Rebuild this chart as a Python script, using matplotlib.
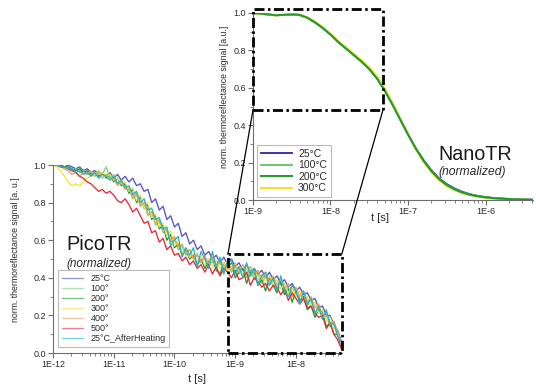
import numpy as np
import matplotlib
matplotlib.use("Agg")
import matplotlib.pyplot as plt
from matplotlib.ticker import FixedLocator, FixedFormatter, MultipleLocator
from matplotlib.patches import ConnectionPatch

plt.rcParams['font.family'] = ['Liberation Sans', 'DejaVu Sans']
plt.rcParams['lines.scale_dashes'] = False

# ---------------- PicoTR data (log10 time grid) ----------------
pico_log_t = np.linspace(-12, -7.25, 77)
pico_labels = ["25°C", "100°", "200°", "300°", "400°", "500°", "25°C_AfterHeating"]
pico_colors = ["#5555c0", "#80d080", "#1f9a2a", "#f5e23c", "#f4a060", "#e8283a", "#22b4cc"]

pico_25 = [1.00,1.00,1.00,0.99,1.00,0.99,0.98,0.99,0.97,0.98,
           0.96,0.97,0.95,0.96,0.94,0.96,0.93,0.95,0.92,0.94,
           0.91,0.93,0.89,0.90,0.86,0.87,0.80,0.82,0.76,0.78,
           0.71,0.73,0.67,0.69,0.62,0.64,0.58,0.60,0.55,0.57,
           0.52,0.54,0.50,0.52,0.48,0.51,0.47,0.50,0.46,0.48,
           0.44,0.47,0.43,0.45,0.42,0.44,0.40,0.43,0.39,0.41,
           0.37,0.39,0.35,0.37,0.33,0.35,0.31,0.32,0.28,0.29,
           0.24,0.25,0.20,0.20,0.15,0.12,0.06]
pico_100 = [1.00,1.00,0.99,0.99,0.98,0.97,0.98,0.96,0.97,0.95,
            0.96,0.94,0.97,0.95,0.99,0.93,0.95,0.90,0.92,0.87,
            0.88,0.82,0.85,0.78,0.80,0.73,0.75,0.68,0.70,0.64,
            0.65,0.59,0.61,0.55,0.57,0.52,0.55,0.50,0.52,0.48,
            0.51,0.46,0.49,0.45,0.48,0.44,0.47,0.43,0.46,0.42,
            0.45,0.40,0.44,0.39,0.42,0.37,0.41,0.36,0.39,0.34,
            0.37,0.32,0.35,0.30,0.33,0.28,0.30,0.25,0.28,0.22,
            0.24,0.18,0.20,0.14,0.15,0.09,0.04]
pico_200 = [1.00,1.00,1.00,0.99,0.99,0.98,0.97,0.98,0.96,0.97,
            0.95,0.96,0.94,0.96,0.93,0.95,0.91,0.93,0.89,0.90,
            0.85,0.87,0.80,0.83,0.77,0.79,0.71,0.73,0.66,0.68,
            0.60,0.63,0.56,0.58,0.52,0.55,0.50,0.52,0.47,0.50,
            0.45,0.49,0.51,0.44,0.42,0.48,0.44,0.48,0.40,0.43,
            0.45,0.37,0.43,0.43,0.36,0.39,0.33,0.40,0.36,0.32,
            0.38,0.31,0.34,0.27,0.33,0.28,0.30,0.23,0.25,0.19,
            0.23,0.22,0.14,0.16,0.10,0.10,0.03]
pico_300 = [1.00,0.99,0.97,0.94,0.91,0.89,0.90,0.89,0.91,0.93,
            0.94,0.96,0.95,0.96,0.94,0.95,0.92,0.93,0.90,0.91,
            0.86,0.88,0.81,0.84,0.77,0.80,0.72,0.74,0.67,0.69,
            0.62,0.65,0.57,0.59,0.53,0.56,0.51,0.53,0.48,0.51,
            0.47,0.50,0.46,0.49,0.45,0.48,0.44,0.47,0.43,0.46,
            0.42,0.45,0.41,0.44,0.39,0.42,0.38,0.41,0.36,0.39,
            0.34,0.37,0.32,0.35,0.30,0.33,0.28,0.30,0.25,0.27,
            0.21,0.23,0.17,0.19,0.13,0.11,0.04]
pico_400 = [1.00,1.00,0.99,0.98,0.97,0.95,0.96,0.94,0.96,0.95,
            0.97,0.94,0.96,0.93,0.95,0.92,0.93,0.89,0.91,0.87,
            0.87,0.83,0.84,0.79,0.80,0.74,0.75,0.69,0.71,0.65,
            0.66,0.60,0.62,0.56,0.58,0.53,0.55,0.50,0.53,0.48,
            0.52,0.47,0.51,0.46,0.50,0.45,0.49,0.44,0.48,0.43,
            0.47,0.42,0.46,0.41,0.44,0.39,0.43,0.38,0.41,0.36,
            0.39,0.34,0.37,0.32,0.35,0.30,0.33,0.27,0.30,0.24,
            0.26,0.20,0.22,0.16,0.17,0.11,0.05]
pico_500 = [1.00,1.00,0.99,0.99,0.98,0.97,0.96,0.94,0.93,0.91,
            0.90,0.88,0.86,0.87,0.85,0.86,0.84,0.81,0.80,0.82,
            0.79,0.75,0.77,0.73,0.69,0.70,0.64,0.65,0.59,0.61,
            0.55,0.57,0.52,0.53,0.49,0.51,0.47,0.49,0.45,0.47,
            0.43,0.47,0.42,0.46,0.41,0.45,0.43,0.40,0.44,0.39,
            0.40,0.43,0.36,0.40,0.38,0.35,0.37,0.33,0.36,0.35,
            0.31,0.34,0.28,0.32,0.29,0.26,0.29,0.24,0.25,0.21,
            0.19,0.20,0.13,0.16,0.10,0.07,0.02]
pico_after = [1.00,1.00,0.99,0.99,0.98,0.98,0.96,0.97,0.95,0.96,
              0.94,0.96,0.93,0.95,0.94,0.92,0.94,0.90,0.92,0.88,
              0.89,0.84,0.86,0.80,0.82,0.76,0.77,0.71,0.72,0.66,
              0.67,0.57,0.60,0.62,0.51,0.56,0.52,0.56,0.46,0.54,
              0.50,0.45,0.54,0.46,0.51,0.42,0.49,0.50,0.42,0.46,
              0.40,0.48,0.41,0.45,0.36,0.41,0.43,0.36,0.40,0.33,
              0.41,0.34,0.30,0.36,0.33,0.26,0.33,0.26,0.29,0.21,
              0.25,0.18,0.23,0.15,0.16,0.09,0.05]
pico_series = [pico_25, pico_100, pico_200, pico_300, pico_400, pico_500, pico_after]
pico_xticks = [1e-12, 1e-11, 1e-10, 1e-9, 1e-8]
pico_xticklabels = ["1E-12", "1E-11", "1E-10", "1E-9", "1E-8"]

# ---------------- NanoTR data ----------------
nano_log_t = np.linspace(-9.0, -5.4, 37)
nano_labels = ["25°C", "100°C", "200°C", "300°C"]
nano_colors = ["#3a3aa8", "#6cc86c", "#1f9a2a", "#f5e020"]
nano_25 = [1.000,0.997,0.992,0.988,0.990,0.992,0.990,0.975,0.950,0.920,
           0.885,0.845,0.812,0.777,0.742,0.702,0.652,0.587,0.512,0.432,
           0.352,0.278,0.214,0.160,0.117,0.085,0.062,0.044,0.031,0.022,
           0.016,0.011,0.008,0.006,0.004,0.003,0.002]
nano_100 = [1.000,0.996,0.991,0.988,0.990,0.991,0.989,0.974,0.949,0.919,
            0.884,0.844,0.810,0.775,0.740,0.700,0.650,0.585,0.510,0.430,
            0.350,0.275,0.210,0.156,0.113,0.081,0.058,0.041,0.029,0.020,
            0.014,0.010,0.007,0.005,0.003,0.002,0.001]
nano_200 = [1.000,0.997,0.992,0.988,0.990,0.992,0.990,0.975,0.950,0.920,
            0.885,0.845,0.810,0.775,0.740,0.700,0.650,0.585,0.510,0.430,
            0.350,0.275,0.210,0.155,0.112,0.080,0.057,0.040,0.028,0.020,
            0.014,0.010,0.007,0.005,0.003,0.002,0.001]
nano_300 = [0.999,0.996,0.991,0.987,0.990,0.992,0.991,0.978,0.954,0.925,
            0.890,0.851,0.817,0.783,0.749,0.710,0.661,0.597,0.520,0.437,
            0.352,0.274,0.205,0.149,0.106,0.075,0.053,0.037,0.026,0.018,
            0.012,0.008,0.005,0.003,0.002,0.001,0.000]
nano_series = [nano_25, nano_100, nano_200, nano_300]
nano_z = [2, 3, 5, 4]
nano_xticks = [1e-9, 1e-8, 1e-7, 1e-6]
nano_xticklabels = ["1E-9", "1E-8", "1E-7", "1E-6"]

# zoom boxes (data coordinates)
pico_box_t = [7.6e-10, 5.7e-8]
pico_box_v = [0.0, 0.527]
nano_box_t = [1.0e-9, 4.75e-8]
nano_box_v = [0.481, 1.021]

yticks = [0.0, 0.2, 0.4, 0.6, 0.8, 1.0]
yticklabels = ["0.0", "0.2", "0.4", "0.6", "0.8", "1.0"]

spine_c = "#6e6e6e"
text_c = "#2a2a2a"

fig = plt.figure(figsize=(5.36, 3.88), dpi=100)
ax_b = fig.add_axes([0.0989, 0.0902, 0.539, 0.4845])
ax_t = fig.add_axes([0.472, 0.4845, 0.522, 0.482])
ax_t.set_facecolor("none")


def style(ax, xticks, xlabels, xlim):
    ax.set_xscale("log")
    ax.set_xlim(*xlim)
    ax.set_ylim(0, 1.0)
    for s in ["top", "right"]:
        ax.spines[s].set_visible(False)
    for s in ["left", "bottom"]:
        ax.spines[s].set_color(spine_c)
        ax.spines[s].set_linewidth(0.8)
    ax.xaxis.set_major_locator(FixedLocator(xticks))
    ax.xaxis.set_major_formatter(FixedFormatter(xlabels))
    minors = []
    for d in xticks + [xticks[-1] * 10]:
        for m in range(2, 10):
            minors.append(d / 10 * m)
    ax.xaxis.set_minor_locator(FixedLocator(minors))
    ax.yaxis.set_major_locator(FixedLocator(yticks))
    ax.yaxis.set_major_formatter(FixedFormatter(yticklabels))
    ax.yaxis.set_minor_locator(MultipleLocator(0.1))
    ax.tick_params(which="major", direction="out", length=3.5, width=0.8,
                   color=spine_c, labelsize=6.5, labelcolor=text_c, pad=1.5)
    ax.tick_params(which="minor", direction="out", length=2.0, width=0.6,
                   color=spine_c)


style(ax_b, pico_xticks, pico_xticklabels, (1e-12, 10 ** -7.243))
style(ax_t, nano_xticks, nano_xticklabels, (1e-9, 10 ** -5.39))

# PicoTR curves
for vals, lab, col in zip(pico_series, pico_labels, pico_colors):
    ax_b.plot(10 ** pico_log_t, vals, color=col, lw=0.95, label=lab)

# NanoTR curves
for vals, lab, col, z in zip(nano_series, nano_labels, nano_colors, nano_z):
    ax_t.plot(10 ** nano_log_t, vals, color=col, lw=1.4, label=lab, zorder=z)

# labels
ax_b.set_xlabel("t [s]", fontsize=8, color=text_c)
ax_b.xaxis.set_label_coords(0.5, -0.112)
ax_b.set_ylabel("norm. thermoreflectance signal [a. u.]", fontsize=6.3, color=text_c)
ax_b.yaxis.set_label_coords(-0.114, 0.548)

ax_t.set_xlabel("t [s]", fontsize=8, color=text_c)
ax_t.xaxis.set_label_coords(0.454, -0.07)
ax_t.set_ylabel("norm. thermoreflectance signal [a.u.]", fontsize=6.3, color=text_c)
ax_t.yaxis.set_label_coords(-0.086, 0.55)

# titles inside
ax_b.text(0.045, 0.548, "PicoTR", transform=ax_b.transAxes, fontsize=14.3,
          color="#1a1a1a", va="baseline", ha="left")
ax_b.text(0.048, 0.457, "(normalized)", transform=ax_b.transAxes, fontsize=8.5,
          style="italic", color="#2a2a2a", va="baseline", ha="left")
ax_t.text(0.661, 0.214, "NanoTR", transform=ax_t.transAxes, fontsize=14.2,
          color="#1a1a1a", va="baseline", ha="left")
ax_t.text(0.663, 0.134, "(normalized)", transform=ax_t.transAxes, fontsize=8.7,
          style="italic", color="#2a2a2a", va="baseline", ha="left")

# legends
leg_b = ax_b.legend(loc="lower left", bbox_to_anchor=(0.017, 0.032), borderaxespad=0,
                    fontsize=6.5, frameon=True, fancybox=False, handlelength=2.4,
                    handletextpad=0.8, labelspacing=0.12, borderpad=0.4)
leg_b.get_frame().set_edgecolor("#aaaaaa")
leg_b.get_frame().set_linewidth(0.8)
for t in leg_b.get_texts():
    t.set_color(text_c)
for h in leg_b.get_lines():
    h.set_alpha(0.6)

leg_t = ax_t.legend(loc="lower left", bbox_to_anchor=(0.014, 0.016), borderaxespad=0,
                    fontsize=7.5, frameon=True, fancybox=False, handlelength=3.0,
                    handletextpad=0.6, labelspacing=0.15, borderpad=0.35)
leg_t.get_frame().set_edgecolor("#aaaaaa")
leg_t.get_frame().set_linewidth(0.8)
for t in leg_t.get_texts():
    t.set_color(text_c)

# dash-dot zoom boxes
dd = (0, (7.2, 2.5, 1.8, 2.5))
bx = [pico_box_t[0], pico_box_t[1], pico_box_t[1], pico_box_t[0], pico_box_t[0]]
by = [pico_box_v[0], pico_box_v[0], pico_box_v[1], pico_box_v[1], pico_box_v[0]]
ax_b.plot(bx, by, color="black", lw=2.0, linestyle=dd, clip_on=False, zorder=10)
tx = [nano_box_t[0], nano_box_t[1], nano_box_t[1], nano_box_t[0], nano_box_t[0]]
ty = [nano_box_v[0], nano_box_v[0], nano_box_v[1], nano_box_v[1], nano_box_v[0]]
ax_t.plot(tx, ty, color="black", lw=2.0, linestyle=dd, clip_on=False, zorder=10)

# connector lines
for xa, xb in [(pico_box_t[0], nano_box_t[0]), (pico_box_t[1], nano_box_t[1])]:
    cp = ConnectionPatch(xyA=(xa, pico_box_v[1]), coordsA=ax_b.transData,
                         xyB=(xb, nano_box_v[0]), coordsB=ax_t.transData,
                         color="black", lw=0.9)
    fig.add_artist(cp)

fig.savefig("out.png", dpi=100)
